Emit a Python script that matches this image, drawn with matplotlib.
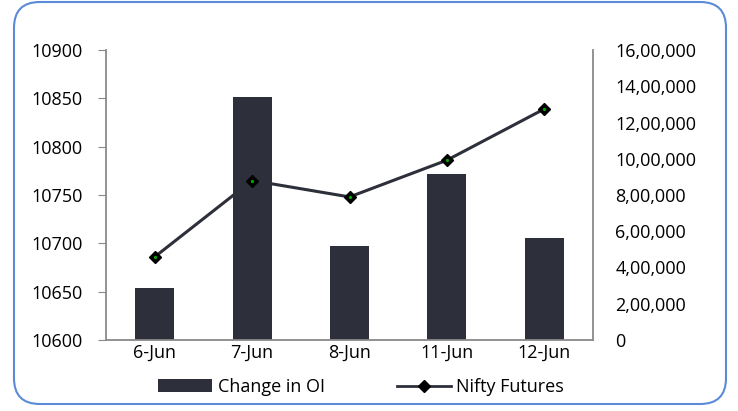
import matplotlib
matplotlib.use("Agg")
import matplotlib.pyplot as plt
from matplotlib.patches import FancyBboxPatch
from matplotlib.lines import Line2D
from matplotlib.patches import Patch

categories = ["6-Jun", "7-Jun", "8-Jun", "11-Jun", "12-Jun"]
change_in_oi = [287000, 1340000, 518000, 916000, 563000]
nifty_futures = [10686, 10765, 10748, 10786, 10839]
left_ticks = [10600, 10650, 10700, 10750, 10800, 10850, 10900]
right_ticks = [0, 200000, 400000, 600000, 800000, 1000000, 1200000, 1400000, 1600000]
right_labels = ["0", "2,00,000", "4,00,000", "6,00,000", "8,00,000",
                "10,00,000", "12,00,000", "14,00,000", "16,00,000"]

plt.rcParams['font.family'] = ['Open Sans', 'DejaVu Sans']
FS = 13
W, H = 738, 411
fig = plt.figure(figsize=(W/100, H/100), dpi=100)

# rounded border
border = FancyBboxPatch((14/W, 7/H), (726-14)/W, (409-7)/H,
                        boxstyle="round,pad=0,rounding_size=0.035",
                        transform=fig.transFigure, fill=False,
                        edgecolor="#5b8bd6", linewidth=1.5, mutation_aspect=W/H)
fig.patches.append(border)

ax = fig.add_axes([106/W, (H-340)/H, (593-106)/W, (340-50)/H])
ax2 = ax.twinx()

x = list(range(len(categories)))
bar_color = "#2d2f3a"
ax2.bar(x, change_in_oi, width=0.4, color=bar_color, zorder=1)
ax2.set_ylim(0, 1600000)
ax2.set_yticks(right_ticks)
ax2.set_yticklabels(right_labels, fontsize=FS)
ax2.tick_params(axis='y', length=0, pad=16)

ax.set_zorder(ax2.get_zorder() + 1)
ax.patch.set_visible(False)
ax.plot(x, nifty_futures, color="#2d2f3a", linewidth=2.2, marker='D',
        markersize=6.5, markerfacecolor='black', markeredgecolor='black', zorder=3)
ax.plot(x, nifty_futures, linestyle='none', marker='o', markersize=1.3,
        color="#00aa00", zorder=4)
ax.set_ylim(10600, 10900)
ax.set_xlim(-0.5, 4.5)
ax.set_yticks(left_ticks)
ax.set_yticklabels([str(t) for t in left_ticks], fontsize=FS)
ax.tick_params(axis='y', length=6, color="#898989", pad=11)
ax.set_xticks(x)
ax.set_xticklabels(categories, fontsize=FS)
ax.tick_params(axis='x', length=0, pad=3)

for a in (ax, ax2):
    a.spines['top'].set_visible(False)
    for s in ('left', 'right', 'bottom'):
        a.spines[s].set_color("#898989")
        a.spines[s].set_linewidth(1.3)
ax.spines['right'].set_visible(False)
ax2.spines['left'].set_visible(False)
ax2.spines['bottom'].set_visible(False)

handles = [Patch(facecolor=bar_color, label="Change in OI"),
           Line2D([0], [0], color="#2d2f3a", linewidth=2, marker='D', markersize=6,
                  markerfacecolor='black', markeredgecolor='black', label="Nifty Futures")]
fig.legend(handles=handles, loc='center', bbox_to_anchor=(361/W, (H-387)/H),
           ncol=2, frameon=False, fontsize=FS, handlelength=3.0, handleheight=0.7,
           columnspacing=4.0, handletextpad=0.3)

fig.savefig("out.png", dpi=100)
